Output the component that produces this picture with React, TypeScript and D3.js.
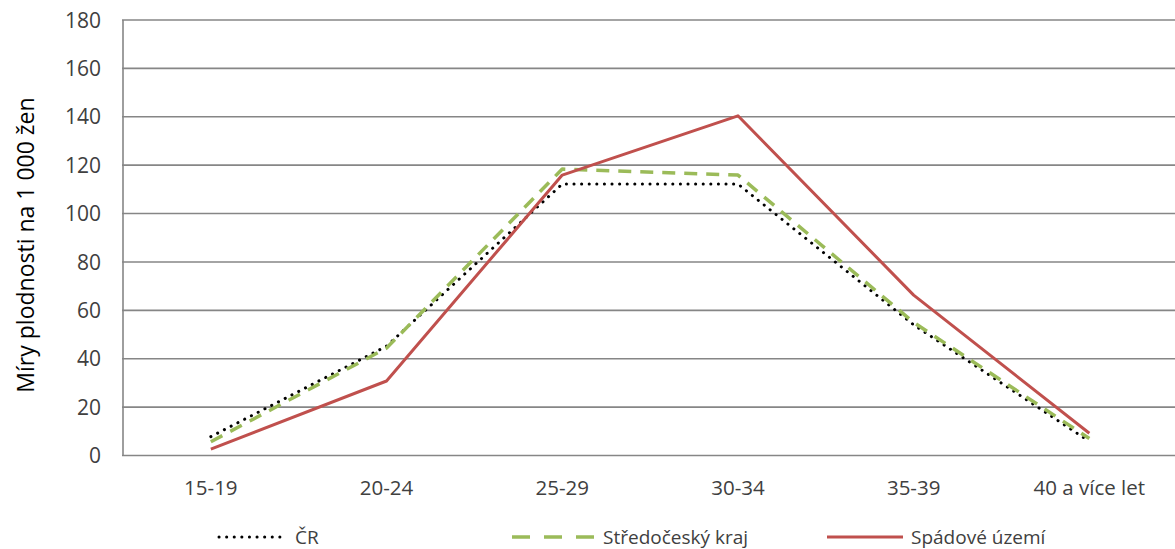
import React from "react";
import * as d3 from "d3";

const categories = ["15-19", "20-24", "25-29", "30-34", "35-39", "40 a více let"];
const crValues = [7.8, 45.2, 112.2, 112.2, 54, 5.8];
const stredoceskyValues = [5.7, 44.4, 118.4, 115.9, 55, 7];
const spadoveValues = [2.6, 30.8, 115.9, 140.4, 66.3, 9.2];
const yTicks = [0, 20, 40, 60, 80, 100, 120, 140, 160, 180];

const seriesNames = ["ČR", "Středočeský kraj", "Spádové území"];

const W = 1175;
const H = 549;
const left = 123;
const bandW = 175.7;
const top = 20;
const bottom = 455.5;

const FONT = "'Open Sans', 'DejaVu Sans', sans-serif";

export default function App() {
  const x = d3
    .scaleBand<string>()
    .domain(categories)
    .range([left, left + bandW * categories.length]);
  const y = d3.scaleLinear().domain([0, 180]).range([bottom, top]);
  const cx = (c: string) => (x(c) as number) + x.bandwidth() / 2;
  const line = d3
    .line<number>()
    .x((_, i) => cx(categories[i]))
    .y((d) => y(d));

  const styles = [
    { color: "#000000", width: 3, dash: "0.1 7.5", cap: "round" as const, values: crValues },
    { color: "#9BBB59", width: 3.5, dash: "13 9", cap: "butt" as const, values: stredoceskyValues },
    { color: "#C0504D", width: 3, dash: "none", cap: "butt" as const, values: spadoveValues },
  ];

  const legendItems = [
    { x1: 219, x2: 287, tx: 295 },
    { x1: 512, x2: 597, tx: 603 },
    { x1: 827, x2: 903, tx: 911 },
  ];
  const legendY = 537;

  return (
    <svg
      width={W}
      height={H}
      style={{ position: "absolute", left: 0, top: 0, background: "#fff" }}
      fontFamily={FONT}
    >
      {yTicks.map((t) => (
        <g key={t}>
          <line
            x1={left - 1}
            x2={W}
            y1={y(t)}
            y2={y(t)}
            stroke="#868686"
            strokeWidth={1.6}
          />
          <text
            x={101}
            y={y(t)}
            dy="0.36em"
            textAnchor="end"
            fontSize={21}
            fill="#404040"
          >
            {t}
          </text>
        </g>
      ))}
      <line x1={left} x2={left} y1={top} y2={bottom} stroke="#868686" strokeWidth={1.6} />

      {categories.map((c) => (
        <text
          key={c}
          x={cx(c)}
          y={488}
          dy="0.36em"
          textAnchor="middle"
          fontSize={20.5}
          fill="#404040"
        >
          {c}
        </text>
      ))}

      <text
        transform={`translate(26, 245) rotate(-90)`}
        textAnchor="middle"
        dy="0.36em"
        fontSize={23}
        fill="#000"
      >
        Míry plodnosti na 1 000 žen
      </text>

      {styles.map((s, i) => (
        <path
          key={i}
          d={line(s.values) as string}
          fill="none"
          stroke={s.color}
          strokeWidth={s.width}
          strokeDasharray={s.dash}
          strokeLinecap={s.cap}
          strokeLinejoin="round"
        />
      ))}

      {legendItems.map((l, i) => (
        <g key={i}>
          <line
            x1={l.x1}
            x2={l.x2}
            y1={legendY}
            y2={legendY}
            stroke={styles[i].color}
            strokeWidth={styles[i].width}
            strokeDasharray={i === 1 ? "18 14" : styles[i].dash}
            strokeLinecap={styles[i].cap}
          />
          <text x={l.tx} y={legendY} dy="0.36em" fontSize={19} fill="#404040">
            {seriesNames[i]}
          </text>
        </g>
      ))}
    </svg>
  );
}
